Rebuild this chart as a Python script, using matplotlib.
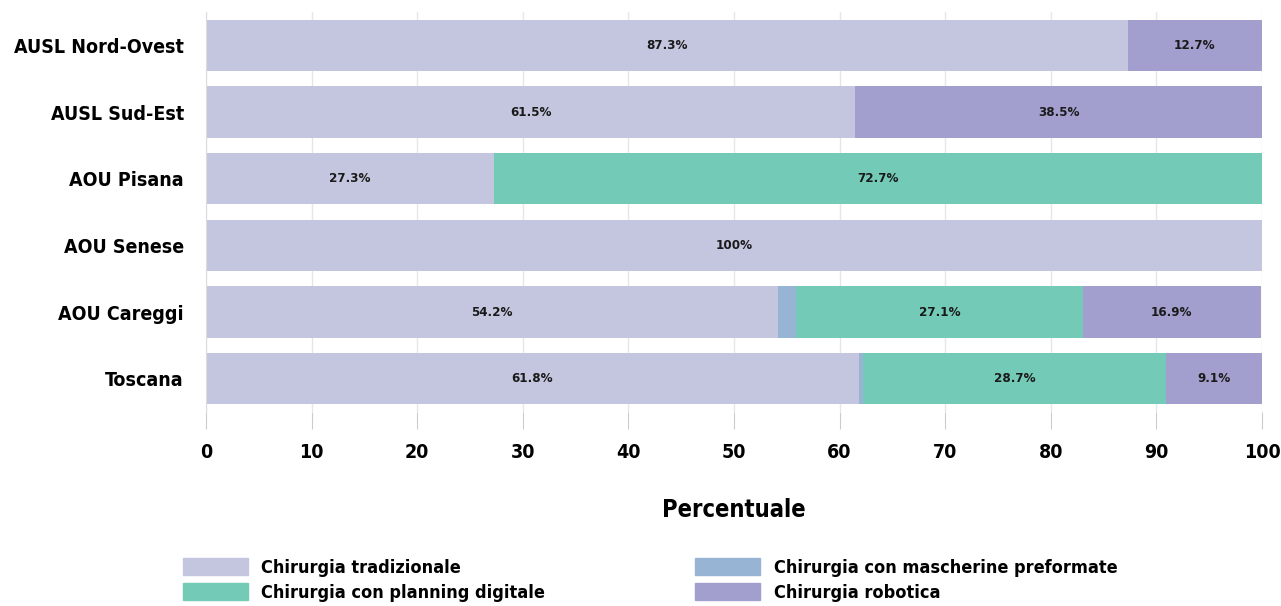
import numpy as np
import matplotlib.pyplot as plt
from matplotlib.patches import Patch

aziende = ["AUSL Nord-Ovest", "AUSL Sud-Est", "AOU Pisana", "AOU Senese", "AOU Careggi", "Toscana"]
tradizionale = [87.3, 61.5, 27.3, 100, 54.2, 61.8]
mascherine = [0, 0, 0, 0, 1.7, 0.4]
planning = [0, 0, 72.7, 0, 27.1, 28.7]
robotica = [12.7, 38.5, 0, 0, 16.9, 9.1]

serie = ["Chirurgia tradizionale", "Chirurgia con mascherine preformate",
         "Chirurgia con planning digitale", "Chirurgia robotica"]
colori = ["#c3c6de", "#98b4d5", "#72cab7", "#a29fcf"]

plt.rcParams['font.family'] = ['DejaVu Sans Condensed', 'Liberation Sans Narrow', 'DejaVu Sans']
plt.rcParams['font.weight'] = 'bold'
plt.rcParams['font.stretch'] = 'condensed'

fig = plt.figure(figsize=(12.81, 6.06), dpi=100)
ax = fig.add_axes([0.1608, 0.320, 0.8244, 0.660])

y = np.arange(len(aziende))
left = np.zeros(len(aziende))
for vals, nome, col in zip([tradizionale, mascherine, planning, robotica], serie, colori):
    vals = np.array(vals, dtype=float)
    ax.barh(y, vals, left=left, height=0.77, color=col, label=nome, zorder=2)
    for i, v in enumerate(vals):
        if v >= 5:
            testo = "100%" if v == 100 else f"{v:.1f}%"
            ax.text(left[i] + v / 2, y[i], testo, ha='center', va='center',
                    fontsize=9.5, fontweight='bold', color='#1a1a1a', zorder=3)
    left += vals

ax.set_xlim(0, 100)
ax.set_ylim(5.5, -0.5)
ax.set_yticks(y)
ax.set_yticklabels(aziende, fontsize=14, fontweight='bold')
ax.set_xticks(np.arange(0, 101, 10))
ax.tick_params(axis='x', labelsize=14, length=12, color='#cccccc', pad=10)
ax.tick_params(axis='y', length=0, pad=16)
for lab in ax.get_xticklabels():
    lab.set_fontweight('bold')
ax.grid(axis='x', color='#e6e6e6', linewidth=1, zorder=0)
for s in ['top', 'right', 'bottom']:
    ax.spines[s].set_visible(False)
ax.spines['left'].set_color('#dddddd')

ax.set_xlabel("Percentuale", fontsize=17, fontweight='bold', labelpad=26)

handles = [Patch(color=c, label=n) for c, n in zip(colori, serie)]
ordine = [0, 2, 1, 3]
fig.legend([handles[i] for i in ordine], [serie[i] for i in ordine], ncol=2,
           loc='lower left', bbox_to_anchor=(0.130, -0.02), frameon=False,
           fontsize=13, handlelength=3.6, handleheight=1.1, columnspacing=8.3,
           labelspacing=0.35, handletextpad=0.75)

fig.savefig("out.png", dpi=100)
